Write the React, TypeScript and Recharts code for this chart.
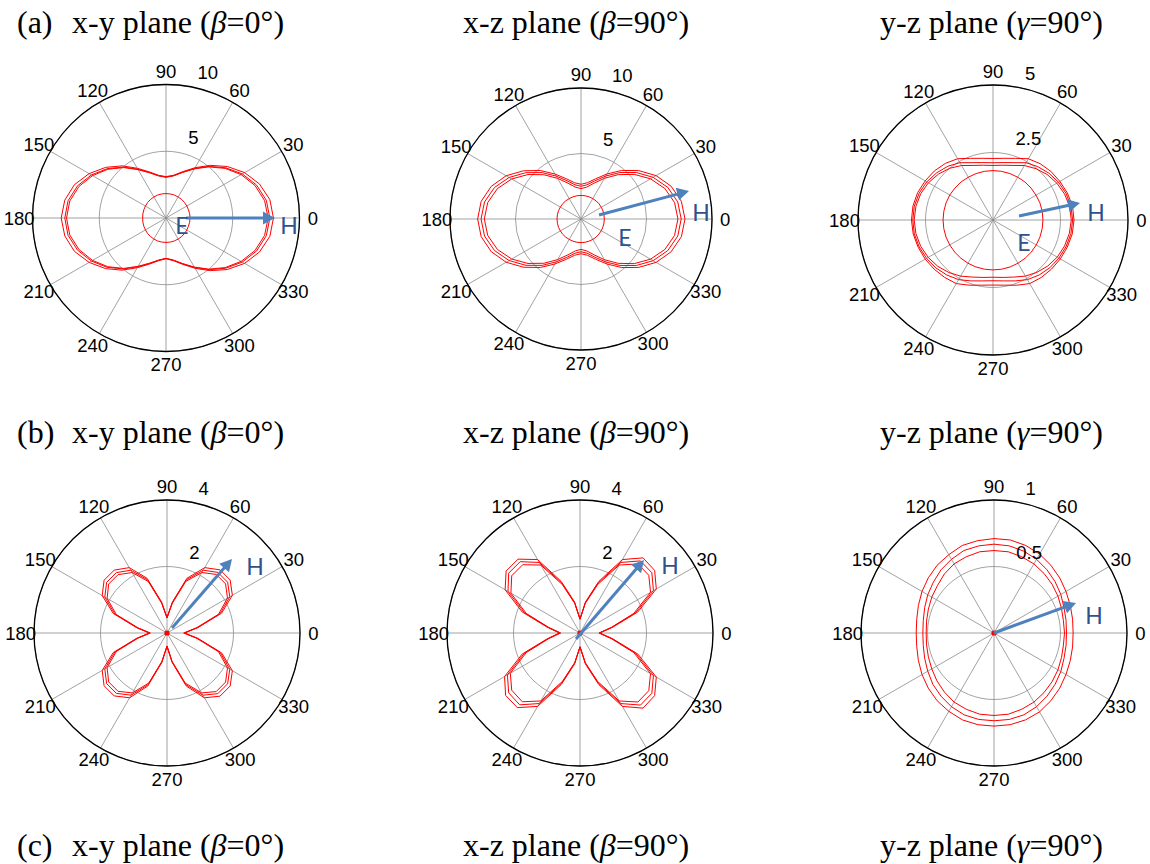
import React from "react";
import {
  RadarChart,
  Radar,
  PolarGrid,
  PolarAngleAxis,
  PolarRadiusAxis,
} from "recharts";

// sample angles (deg) of every curve, and the labelled spokes
const ANGLES = [
  0, 10, 20, 30, 40, 50, 60, 70, 80, 90, 100, 110, 120, 130, 140, 150, 160, 170,
  180, 190, 200, 210, 220, 230, 240, 250, 260, 270, 280, 290, 300, 310, 320, 330, 340, 350,
];
const SPOKES = [0, 30, 60, 90, 120, 150, 180, 210, 240, 270, 300, 330];

// (a) x-y plane, beta = 0
const aXyOuter = [8.05, 7.9, 7.45, 6.8, 6.0, 5.15, 4.35, 3.7, 3.25, 3.1, 3.25, 3.68, 4.3, 5.1, 5.9, 6.65, 7.3, 7.7, 7.85, 7.7, 7.3, 6.65, 5.9, 5.1, 4.3, 3.68, 3.25, 3.05, 3.25, 3.7, 4.35, 5.15, 6.0, 6.8, 7.45, 7.9];
const aXyMid = [7.78, 7.63, 7.22, 6.6, 5.85, 5.05, 4.28, 3.65, 3.22, 3.07, 3.22, 3.63, 4.22, 4.98, 5.75, 6.45, 7.05, 7.45, 7.58, 7.45, 7.05, 6.45, 5.75, 4.98, 4.22, 3.63, 3.22, 3.03, 3.22, 3.65, 4.28, 5.05, 5.85, 6.6, 7.22, 7.63];
const aXyInner = [7.65, 7.5, 7.1, 6.5, 5.78, 5.0, 4.25, 3.63, 3.2, 3.05, 3.2, 3.6, 4.18, 4.93, 5.68, 6.35, 6.93, 7.32, 7.45, 7.32, 6.93, 6.35, 5.68, 4.93, 4.18, 3.6, 3.2, 3.02, 3.2, 3.63, 4.25, 5.0, 5.78, 6.5, 7.1, 7.5];
const aXyE = [1.8, 1.8, 1.79, 1.8, 1.81, 1.82, 1.82, 1.83, 1.83, 1.83, 1.83, 1.83, 1.82, 1.81, 1.8, 1.78, 1.77, 1.76, 1.75, 1.76, 1.77, 1.78, 1.8, 1.81, 1.82, 1.83, 1.83, 1.83, 1.83, 1.83, 1.82, 1.82, 1.81, 1.8, 1.79, 1.8];

// (a) x-z plane, beta = 90
const aXzOuter = [7.94, 7.78, 7.32, 6.62, 5.75, 4.84, 3.97, 3.27, 2.81, 2.65, 2.81, 3.27, 3.96, 4.83, 5.73, 6.6, 7.29, 7.74, 7.89, 7.74, 7.29, 6.6, 5.73, 4.83, 3.96, 3.27, 2.81, 2.65, 2.81, 3.27, 3.97, 4.84, 5.75, 6.62, 7.32, 7.78];
const aXzMid = [7.65, 7.5, 7.05, 6.36, 5.52, 4.63, 3.79, 3.1, 2.65, 2.5, 2.65, 3.1, 3.78, 4.62, 5.5, 6.34, 7.03, 7.48, 7.63, 7.48, 7.03, 6.34, 5.5, 4.62, 3.78, 3.1, 2.65, 2.5, 2.65, 3.1, 3.79, 4.63, 5.52, 6.36, 7.05, 7.5];
const aXzInner = [7.4, 7.25, 6.81, 6.13, 5.3, 4.42, 3.59, 2.91, 2.47, 2.32, 2.47, 2.91, 3.58, 4.41, 5.28, 6.11, 6.79, 7.23, 7.38, 7.23, 6.79, 6.11, 5.28, 4.41, 3.58, 2.91, 2.47, 2.32, 2.47, 2.91, 3.59, 4.42, 5.3, 6.13, 6.81, 7.25];
const aXzE = [1.78, 1.78, 1.79, 1.79, 1.8, 1.8, 1.8, 1.8, 1.8, 1.8, 1.8, 1.8, 1.8, 1.81, 1.82, 1.82, 1.83, 1.83, 1.83, 1.83, 1.83, 1.82, 1.82, 1.81, 1.8, 1.8, 1.8, 1.8, 1.8, 1.8, 1.8, 1.8, 1.79, 1.79, 1.78, 1.78];

// (a) y-z plane, gamma = 90
const aYzOuter = [3.0, 2.99, 2.93, 2.86, 2.8, 2.72, 2.62, 2.43, 2.32, 2.28, 2.32, 2.43, 2.62, 2.74, 2.83, 2.9, 2.97, 3.01, 3.02, 3.0, 2.95, 2.9, 2.84, 2.78, 2.72, 2.57, 2.45, 2.41, 2.45, 2.57, 2.72, 2.78, 2.83, 2.88, 2.93, 2.98];
const aYzMid = [2.95, 2.93, 2.88, 2.8, 2.7, 2.58, 2.45, 2.26, 2.16, 2.12, 2.16, 2.26, 2.45, 2.6, 2.72, 2.83, 2.91, 2.96, 2.97, 2.96, 2.91, 2.84, 2.76, 2.66, 2.55, 2.4, 2.29, 2.25, 2.29, 2.4, 2.55, 2.66, 2.75, 2.82, 2.88, 2.93];
const aYzInner = [2.9, 2.88, 2.82, 2.73, 2.62, 2.48, 2.33, 2.15, 2.06, 2.02, 2.06, 2.15, 2.33, 2.5, 2.64, 2.76, 2.85, 2.9, 2.92, 2.9, 2.85, 2.77, 2.67, 2.54, 2.4, 2.25, 2.16, 2.12, 2.16, 2.25, 2.4, 2.53, 2.65, 2.75, 2.82, 2.87];
const aYzE = [1.85, 1.85, 1.85, 1.84, 1.84, 1.84, 1.83, 1.83, 1.83, 1.83, 1.83, 1.83, 1.83, 1.84, 1.84, 1.85, 1.85, 1.85, 1.85, 1.85, 1.85, 1.85, 1.85, 1.85, 1.85, 1.85, 1.85, 1.85, 1.85, 1.85, 1.85, 1.85, 1.85, 1.85, 1.85, 1.85];

// (b) x-y plane, beta = 0
const bXyOuter = [0.53, 0.95, 1.75, 2.27, 2.48, 2.48, 2.27, 1.75, 0.95, 0.47, 0.95, 1.75, 2.27, 2.47, 2.47, 2.25, 1.72, 0.93, 0.53, 0.93, 1.72, 2.25, 2.47, 2.47, 2.25, 1.7, 0.9, 0.4, 0.9, 1.7, 2.25, 2.48, 2.48, 2.27, 1.75, 0.95];
const bXyMid = [0.52, 0.93, 1.7, 2.18, 2.38, 2.38, 2.18, 1.7, 0.93, 0.46, 0.93, 1.7, 2.18, 2.37, 2.37, 2.16, 1.67, 0.91, 0.52, 0.91, 1.67, 2.16, 2.37, 2.37, 2.16, 1.65, 0.88, 0.4, 0.88, 1.65, 2.16, 2.38, 2.38, 2.18, 1.7, 0.93];
const bXyInner = [0.5, 0.9, 1.65, 2.1, 2.3, 2.3, 2.1, 1.65, 0.9, 0.45, 0.9, 1.65, 2.1, 2.29, 2.29, 2.08, 1.62, 0.88, 0.5, 0.88, 1.62, 2.08, 2.29, 2.29, 2.08, 1.6, 0.86, 0.39, 0.86, 1.6, 2.08, 2.3, 2.3, 2.1, 1.65, 0.9];

// (b) x-z plane, beta = 90
const bXzOuter = [0.6, 1.0, 1.85, 2.65, 2.93, 2.95, 2.55, 1.65, 0.95, 0.42, 0.95, 1.65, 2.55, 2.9, 2.9, 2.6, 1.85, 1.0, 0.62, 1.0, 1.85, 2.62, 2.92, 2.93, 2.55, 1.65, 0.95, 0.42, 0.95, 1.65, 2.55, 2.95, 2.93, 2.65, 1.85, 1.0];
const bXzMid = [0.58, 0.97, 1.78, 2.55, 2.82, 2.83, 2.45, 1.6, 0.92, 0.42, 0.92, 1.6, 2.45, 2.8, 2.8, 2.5, 1.78, 0.97, 0.6, 0.97, 1.78, 2.52, 2.8, 2.82, 2.45, 1.6, 0.92, 0.42, 0.92, 1.6, 2.45, 2.83, 2.82, 2.55, 1.78, 0.97];
const bXzInner = [0.57, 0.95, 1.72, 2.45, 2.7, 2.71, 2.36, 1.55, 0.9, 0.41, 0.9, 1.55, 2.36, 2.68, 2.68, 2.4, 1.72, 0.95, 0.58, 0.95, 1.72, 2.42, 2.68, 2.7, 2.36, 1.55, 0.9, 0.41, 0.9, 1.55, 2.36, 2.71, 2.7, 2.45, 1.72, 0.95];

// (b) y-z plane, gamma = 90
const bYzOuter = [0.595, 0.6, 0.61, 0.625, 0.645, 0.665, 0.685, 0.7, 0.71, 0.71, 0.705, 0.7, 0.68, 0.665, 0.645, 0.625, 0.605, 0.59, 0.585, 0.59, 0.605, 0.625, 0.645, 0.665, 0.68, 0.695, 0.7, 0.7, 0.7, 0.695, 0.685, 0.665, 0.645, 0.625, 0.61, 0.6];
const bYzMid = [0.545, 0.55, 0.56, 0.58, 0.6, 0.62, 0.64, 0.655, 0.665, 0.668, 0.665, 0.66, 0.64, 0.62, 0.595, 0.575, 0.555, 0.54, 0.535, 0.54, 0.555, 0.575, 0.6, 0.62, 0.64, 0.655, 0.66, 0.66, 0.66, 0.655, 0.64, 0.62, 0.6, 0.58, 0.56, 0.55];
const bYzInner = [0.53, 0.53, 0.54, 0.555, 0.57, 0.585, 0.6, 0.61, 0.62, 0.62, 0.62, 0.61, 0.6, 0.58, 0.555, 0.54, 0.525, 0.515, 0.51, 0.515, 0.525, 0.54, 0.56, 0.58, 0.6, 0.61, 0.62, 0.62, 0.62, 0.61, 0.6, 0.585, 0.57, 0.555, 0.54, 0.53];

// curves sitting on the origin in the (b) row (drawn as a red dot)
const originCurve = [0, 0, 0, 0, 0, 0, 0, 0, 0, 0, 0, 0, 0, 0, 0, 0, 0, 0, 0, 0, 0, 0, 0, 0, 0, 0, 0, 0, 0, 0, 0, 0, 0, 0, 0, 0];

// radial ring ticks of each plot
const ringsA = [0, 5, 10];
const ringsAyz = [0, 2.5, 5];
const ringsB = [0, 2, 4];
const ringsByz = [0, 0.5, 1];

const ROW_TAGS = ["(a)", "(b)", "(c)"];
const PLANES = [
  { plane: "x-y plane", sym: "β", deg: "0°" },
  { plane: "x-z plane", sym: "β", deg: "90°" },
  { plane: "y-z plane", sym: "γ", deg: "90°" },
];

const RED = "#ff0000";
const ARROW = "#4f81bd";
const NOTE = "#2f528f";
const SANS = '"Liberation Sans", Arial, Helvetica, sans-serif';
const SERIF = '"Liberation Serif", "Times New Roman", Times, serif';
const BOX = 340;
const HALF = BOX / 2;

type Note = { text: string; dx: number; dy: number };
type Panel = {
  id: string;
  cx: number;
  cy: number;
  R: number;
  rings: number[];
  curves: number[][];
  origin?: boolean;
  arrow: [number, number, number, number];
  notes: Note[];
};

const panels: Panel[] = [
  { id: "axy", cx: 166, cy: 218, R: 133.5, rings: ringsA, curves: [aXyOuter, aXyMid, aXyInner, aXyE],
    arrow: [20, 0, 109, 0], notes: [{ text: "E", dx: 16, dy: 7 }, { text: "H", dx: 123, dy: 7 }] },
  { id: "axz", cx: 581, cy: 219, R: 131, rings: ringsA, curves: [aXzOuter, aXzMid, aXzInner, aXzE],
    arrow: [18, -4, 108, -28], notes: [{ text: "E", dx: 44, dy: 18 }, { text: "H", dx: 120, dy: -7 }] },
  { id: "ayz", cx: 993, cy: 220, R: 135, rings: ringsAyz, curves: [aYzOuter, aYzMid, aYzInner, aYzE],
    arrow: [26, -4, 87, -17], notes: [{ text: "E", dx: 31, dy: 22 }, { text: "H", dx: 103, dy: -8 }] },
  { id: "bxy", cx: 167, cy: 633, R: 133, rings: ringsB, curves: [bXyOuter, bXyMid, bXyInner], origin: true,
    arrow: [5, -5, 65, -74], notes: [{ text: "H", dx: 88, dy: -67 }] },
  { id: "bxz", cx: 580, cy: 633, R: 133, rings: ringsB, curves: [bXzOuter, bXzMid, bXzInner], origin: true,
    arrow: [-4, 6, 64, -73], notes: [{ text: "H", dx: 90, dy: -68 }] },
  { id: "byz", cx: 994, cy: 633, R: 133, rings: ringsByz, curves: [bYzOuter, bYzMid, bYzInner], origin: true,
    arrow: [0, 0, 82, -30], notes: [{ text: "H", dx: 100, dy: -18 }] },
];

function toRows(p: Panel) {
  return ANGLES.map((a, i) => {
    const row: Record<string, number> = { angle: a };
    p.curves.forEach((c, k) => {
      row[`c${k}`] = c[i];
    });
    if (p.origin) row.o = originCurve[i];
    return row;
  });
}

const AngleTick = (props: any) => {
  const { x, y, payload } = props;
  const v = Number(payload?.value);
  if (v % 30 !== 0 || v >= 360) return <g />;
  return (
    <text x={x} y={y} textAnchor="middle" dominantBaseline="central" fontSize={18.5} fontFamily={SANS} fill="#000">
      {v}
    </text>
  );
};

const radiusTick = (max: number) => (props: any) => {
  const { x, y, payload } = props;
  const v = Number(payload?.value);
  if (!v) return <g />;
  const outer = Math.abs(v - max) < 1e-9;
  return (
    <text x={x + (outer ? -3 : 5)} y={y - 10} textAnchor="start" fontSize={18.5} fontFamily={SANS} fill="#000">
      {v}
    </text>
  );
};

// only one dot is needed, every vertex of the origin curve sits on the centre
const OriginDot = (props: any) => {
  const { cx, cy, index } = props;
  if (index !== 0 || cx == null || cy == null) return <g key={`o${index}`} />;
  return <circle key="o0" cx={cx} cy={cy} r={2.6} fill={RED} />;
};

function PolarPanel({ p }: { p: Panel }) {
  const data = toRows(p);
  const max = p.rings[p.rings.length - 1];
  return (
    <div style={{ position: "absolute", left: p.cx - HALF, top: p.cy - HALF }}>
      <RadarChart
        width={BOX}
        height={BOX}
        data={data}
        cx={HALF}
        cy={HALF}
        outerRadius={p.R}
        startAngle={0}
        endAngle={360}
        margin={{ top: 0, right: 0, bottom: 0, left: 0 }}
      >
        <PolarGrid gridType="circle" polarAngles={SPOKES} stroke="#8a8a8a" strokeWidth={0.8} />
        <PolarAngleAxis
          dataKey="angle"
          type="number"
          domain={[0, 360]}
          ticks={SPOKES}
          axisLineType="circle"
          axisLine={{ stroke: "#000", strokeWidth: 1.3 }}
          tickLine={false}
          tickSize={p.R * 0.1}
          tick={AngleTick}
        />
        <PolarRadiusAxis
          type="number"
          angle={75}
          domain={[0, max]}
          ticks={p.rings}
          tickCount={p.rings.length}
          axisLine={false}
          tick={radiusTick(max)}
        />
        {p.curves.map((_, k) => (
          <Radar
            key={k}
            dataKey={`c${k}`}
            stroke={RED}
            strokeWidth={1}
            fill="none"
            fillOpacity={0}
            dot={false}
            isAnimationActive={false}
          />
        ))}
        {p.origin && (
          <Radar
            dataKey="o"
            stroke={RED}
            strokeWidth={1}
            fill="none"
            fillOpacity={0}
            dot={OriginDot}
            isAnimationActive={false}
          />
        )}
      </RadarChart>
    </div>
  );
}

function Annotations() {
  const rowBase = [33, 443, 856];
  const colX = [72, 463, 880];
  return (
    <svg width={1150} height={864} style={{ position: "absolute", left: 0, top: 0, pointerEvents: "none" }}>
      {rowBase.map((by, r) => (
        <g key={r} fontFamily={SERIF} fontSize={32} fill="#000">
          <text x={17} y={by}>{ROW_TAGS[r]}</text>
          {PLANES.map((t, c) => (
            <text key={c} x={colX[c]} y={by}>
              {t.plane} (<tspan fontStyle="italic">{t.sym}</tspan>={t.deg})
            </text>
          ))}
        </g>
      ))}
      {panels.map((p) => {
        const [x1, y1, x2, y2] = p.arrow;
        const ax = p.cx + x1, ay = p.cy + y1, bx = p.cx + x2, by = p.cy + y2;
        const len = Math.hypot(bx - ax, by - ay);
        const ux = (bx - ax) / len, uy = (by - ay) / len;
        const hl = 12, hw = 6.5;
        const baseX = bx - ux * hl, baseY = by - uy * hl;
        const head = `${bx},${by} ${baseX - uy * hw},${baseY + ux * hw} ${baseX + uy * hw},${baseY - ux * hw}`;
        return (
          <g key={p.id}>
            <line x1={ax} y1={ay} x2={baseX + ux * 2} y2={baseY + uy * 2} stroke={ARROW} strokeWidth={3} />
            <polygon points={head} fill={ARROW} />
            {p.notes.map((n) => (
              <text
                key={n.text}
                x={p.cx + n.dx}
                y={p.cy + n.dy}
                textAnchor="middle"
                dominantBaseline="central"
                fontFamily='Lato, "Open Sans", sans-serif'
                fontSize={23}
                fill={NOTE}
              >
                {n.text}
              </text>
            ))}
          </g>
        );
      })}
    </svg>
  );
}

export default function App() {
  return (
    <div
      style={{
        position: "absolute",
        left: 0,
        top: 0,
        width: 1150,
        height: 864,
        overflow: "hidden",
        background: "#fff",
      }}
    >
      {panels.map((p) => (
        <PolarPanel key={p.id} p={p} />
      ))}
      <Annotations />
    </div>
  );
}
